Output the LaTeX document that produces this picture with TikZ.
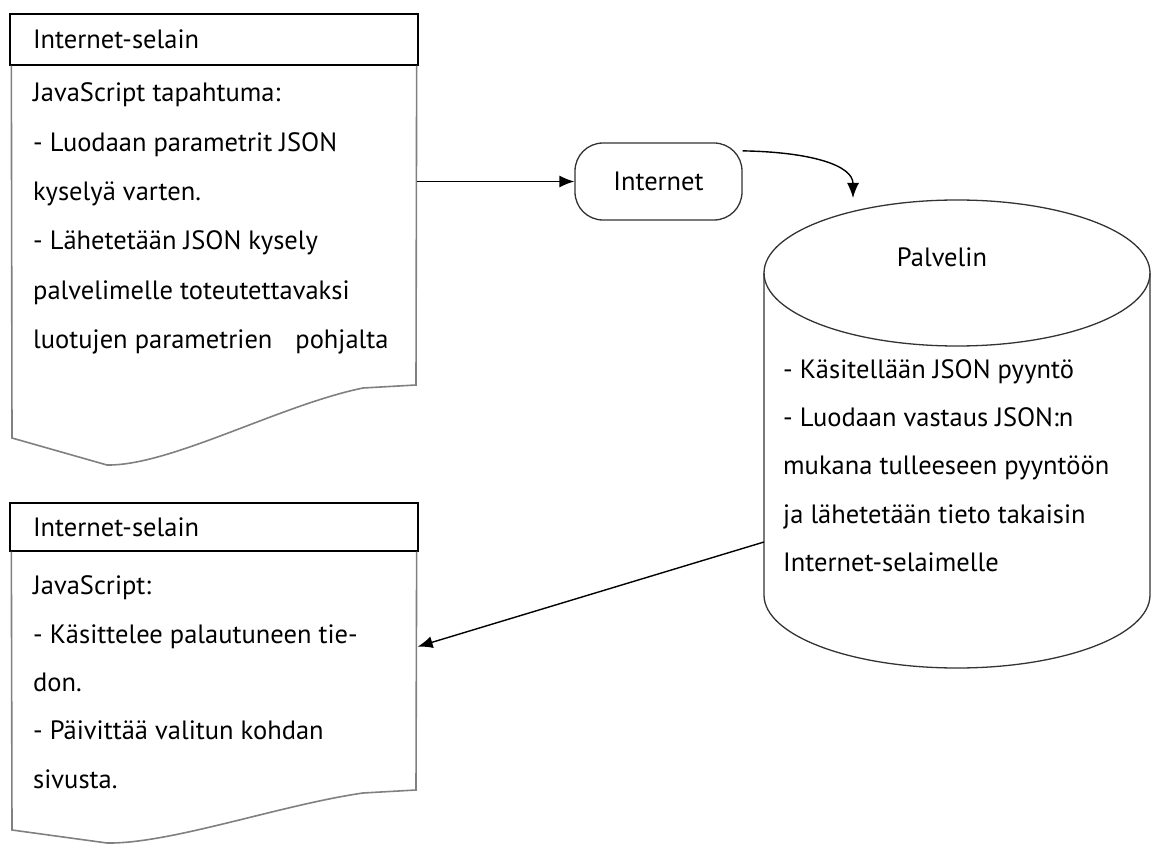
\documentclass[tikz,border=0pt]{standalone}
\usepackage{fontspec}
\setmainfont{PT Sans}
\usepackage{tikz}
\usetikzlibrary{positioning,arrows.meta,calc}

\begin{document}
\begin{tikzpicture}[
    x=1pt, y=-1pt,
    >=Latex,
    every node/.style = {font=\fontsize{26.5pt}{48.3pt}\selectfont},
    hdr/.style        = {rectangle, draw=black, line width=1.3pt, minimum height=51pt,
                          text width=362pt, inner xsep=23pt, inner ysep=0pt, align=left},
    page/.style       = {draw=black!50, line width=1.6pt},
    txt/.style        = {anchor=north west, align=left, inner sep=0pt},
    net/.style        = {rectangle, rounded corners=28pt, draw=black!80, line width=1.3pt,
                          minimum width=167pt, minimum height=77pt},
    cyl/.style        = {draw=black!80, line width=1.3pt},
    arr/.style        = {->, line width=1.4pt, >={Latex[length=15pt,width=12pt]}},
]
\useasboundingbox (0,0) rectangle (1152,845);

% Browser, sending side
\node[hdr] (hdrA) at (214,39.5) {Internet-selain};
\draw[page] ($(hdrA.south west)+(2,0)$) -- (12,438) -- (107,465)
    .. controls (170,466) and (280,405) .. (363,388) -- (416,385)
    -- ($(hdrA.south east)+(-2,0)$);
\node[txt, font=\fontsize{26.5pt}{49.3pt}\selectfont] (txtA) at (33,82.8) {JavaScript tapahtuma:\\
    - Luodaan parametrit JSON\\
    kyselyä varten.\\
    - Lähetetään JSON kysely\\
    palvelimelle toteutettavaksi\\
    luotujen parametrien\hspace{0.6em} pohjalta};

% Network
\node[net] (inet) at (658.5,181.5) {Internet\hspace{14pt}};

% Server cylinder
\draw[cyl] (957,273) ellipse [x radius=193pt, y radius=73pt];
\draw[cyl] (764,273) -- (764,595)
    arc[start angle=180, end angle=360, x radius=193pt, y radius=73pt] -- (1150,273);
\node (srvLbl) at (942,257) {Palvelin};
\node[txt] (srvTxt) at (783,359.3) {- Käsitellään JSON pyyntö\\
    - Luodaan vastaus JSON:n\\
    mukana tulleeseen pyyntöön\\
    ja lähetetään tieto takaisin\\
    Internet-selaimelle};
\coordinate (srvIn)  at (853,198);
\coordinate (srvOut) at (764,542);

% Browser, receiving side
\node[hdr, minimum height=48pt] (hdrB) at (214,527) {Internet-selain};
\draw[page] ($(hdrB.south west)+(2,0)$) -- (12,830) -- (107,843)
    .. controls (170,844) and (280,805) .. (363,793) -- (416,790)
    -- ($(hdrB.south east)+(-2,0)$);
\node[txt] (txtB) at (33,575.8) {JavaScript:\\
    - Käsittelee palautuneen tie-\\
    don.\\
    - Päivittää valitun kohdan\\
    sivusta.};

% Flow
\draw[arr] ([xshift=-2pt]hdrA.east |- inet.west) -- (inet.west);
\draw[arr] (inet.20) .. controls (810,152) and (853,165) .. (srvIn);
\draw[arr] (srvOut) -- ([xshift=-1pt,yshift=-95pt]hdrB.south east);

\end{tikzpicture}
\end{document}
